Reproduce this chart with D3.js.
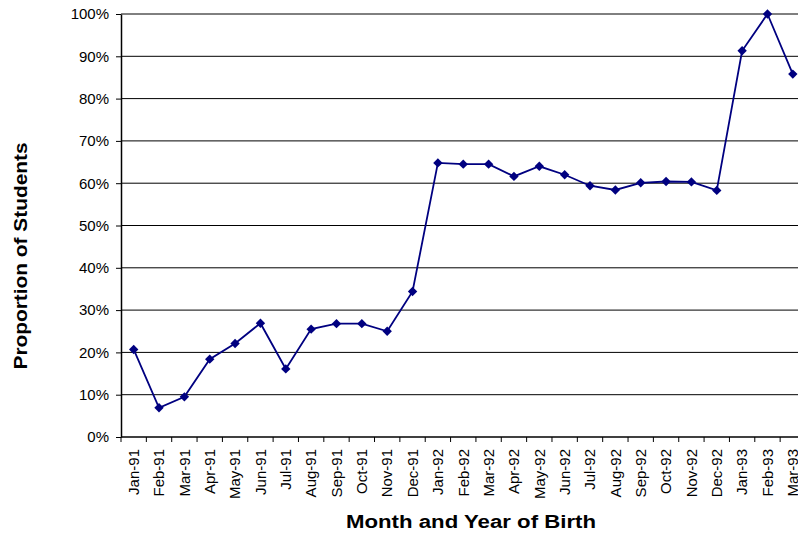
<!DOCTYPE html>
<html>
<head>
<meta charset="utf-8">
<script src="https://cdn.jsdelivr.net/npm/d3@7/dist/d3.min.js"></script>
<style>
  html, body { margin: 0; padding: 0; background: #fff; }
  svg { display: block; font-family: Arial, "Liberation Sans", sans-serif; }
</style>
</head>
<body>
<svg id="chart" width="798" height="535"></svg>
<script>
// Birth months and the proportion of students (in %) for each month
const months = [
  "Jan-91", "Feb-91", "Mar-91", "Apr-91", "May-91", "Jun-91", "Jul-91",
  "Aug-91", "Sep-91", "Oct-91", "Nov-91", "Dec-91",
  "Jan-92", "Feb-92", "Mar-92", "Apr-92", "May-92", "Jun-92", "Jul-92",
  "Aug-92", "Sep-92", "Oct-92", "Nov-92", "Dec-92",
  "Jan-93", "Feb-93", "Mar-93"
];
const proportion = [
  20.7, 6.9, 9.5, 18.4, 22.1, 26.9, 16.1, 25.5, 26.8, 26.8, 25.0, 34.4,
  64.8, 64.5, 64.5, 61.6, 64.0, 62.0, 59.4, 58.4, 60.1, 60.4, 60.3, 58.3,
  91.3, 100, 85.8
];
const yTicks = [0, 10, 20, 30, 40, 50, 60, 70, 80, 90, 100];

const svg = d3.select("#chart");
const plot = { left: 121, top: 14, right: 805.5, bottom: 437 };

const x = d3.scaleBand().domain(months).range([plot.left, plot.right]);
const y = d3.scaleLinear().domain([0, 100]).range([plot.bottom, plot.top]);
const cx = m => x(m) + x.bandwidth() / 2;

// horizontal gridlines
svg.append("g")
  .selectAll("line")
  .data(yTicks.filter(d => d > 0))
  .join("line")
  .attr("x1", plot.left).attr("x2", plot.right)
  .attr("y1", d => y(d)).attr("y2", d => y(d))
  .attr("stroke", "#000").attr("stroke-width", 1);

// y axis
const yAxis = svg.append("g")
  .attr("transform", `translate(${plot.left},0)`)
  .call(d3.axisLeft(y).tickValues(yTicks).tickFormat(d => d + "%")
    .tickSize(5).tickPadding(7).tickSizeOuter(0));
yAxis.select(".domain").attr("stroke", "#000").attr("stroke-width", 1.5);
yAxis.selectAll("text").attr("font-size", 15).attr("fill", "#000")
  .attr("font-family", "Arial, 'Liberation Sans', sans-serif");

// x axis with ticks between categories
const xAxis = svg.append("g")
  .attr("transform", `translate(0,${plot.bottom})`);
xAxis.append("line")
  .attr("x1", plot.left).attr("x2", plot.right)
  .attr("stroke", "#000").attr("stroke-width", 1.5);
xAxis.selectAll("line.tick")
  .data(months)
  .join("line")
  .attr("class", "tick")
  .attr("x1", d => x(d)).attr("x2", d => x(d))
  .attr("y1", 0).attr("y2", 5)
  .attr("stroke", "#000");
xAxis.selectAll("text")
  .data(months)
  .join("text")
  .attr("transform", d => `translate(${cx(d)},12) rotate(-90)`)
  .attr("dy", "0.35em")
  .attr("text-anchor", "end")
  .attr("font-size", 15)
  .attr("fill", "#000")
  .text(d => d);

// data line and diamond markers
const line = d3.line()
  .x((d, i) => cx(months[i]))
  .y(d => y(d));

svg.append("path")
  .datum(proportion)
  .attr("d", line)
  .attr("fill", "none")
  .attr("stroke", "#000080")
  .attr("stroke-width", 1.8);

const diamond = {
  draw(ctx, size) {
    const r = Math.sqrt(size / 2);
    ctx.moveTo(0, -r);
    ctx.lineTo(r, 0);
    ctx.lineTo(0, r);
    ctx.lineTo(-r, 0);
    ctx.closePath();
  }
};

svg.append("g")
  .selectAll("path")
  .data(proportion)
  .join("path")
  .attr("d", d3.symbol().type(diamond).size(44))
  .attr("transform", (d, i) => `translate(${cx(months[i])},${y(d)})`)
  .attr("fill", "#000080");

// axis titles
svg.append("text")
  .attr("x", 471).attr("y", 528)
  .attr("text-anchor", "middle")
  .attr("font-size", 18).attr("font-weight", "bold")
  .attr("textLength", 250).attr("lengthAdjust", "spacingAndGlyphs")
  .text("Month and Year of Birth");

svg.append("text")
  .attr("transform", "translate(27,256) rotate(-90)")
  .attr("text-anchor", "middle")
  .attr("font-size", 18).attr("font-weight", "bold")
  .attr("textLength", 227).attr("lengthAdjust", "spacingAndGlyphs")
  .text("Proportion of Students");
</script>
</body>
</html>
